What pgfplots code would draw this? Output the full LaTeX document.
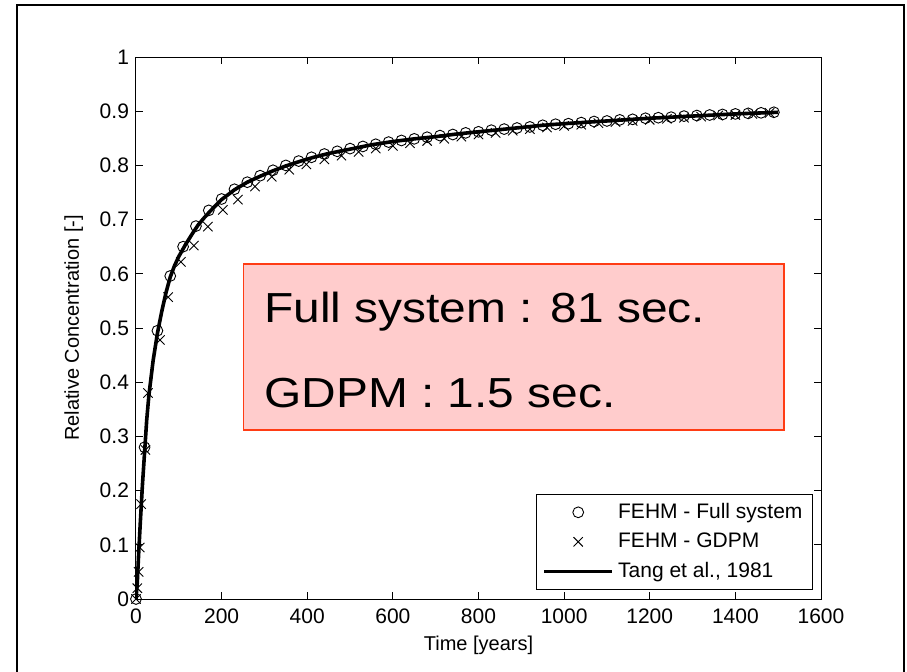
\documentclass[border=0pt]{standalone}
\usepackage{fontspec}
\setmainfont{Liberation Sans}
\usepackage{pgfplots}
\pgfplotsset{compat=1.18}
\usepackage{pgfplotstable}
\definecolor{boxfill}{RGB}{255,204,204}
\definecolor{boxline}{RGB}{255,60,20}
\pgfplotsset{
  legmark/.style={legend image code/.code={\draw[mark repeat=2,mark phase=2,##1] plot coordinates {(0cm,0cm)(0.6cm,0cm)(1.2cm,0cm)};}},
  legline/.style={legend image code/.code={\draw[##1] (0cm,0cm) -- (1.2cm,0cm);}},
}

\pgfplotstableread{
t c
0 0
20 0.28
50 0.495
80 0.596
110 0.650
140 0.688
170 0.717
200 0.738
230 0.756
260 0.769
290 0.781
320 0.791
350 0.800
380 0.808
410 0.815
440 0.821
470 0.826
500 0.831
530 0.835
560 0.839
590 0.843
620 0.846
650 0.849
680 0.852
710 0.855
740 0.857
770 0.860
800 0.862
830 0.865
860 0.867
890 0.869
920 0.871
950 0.874
980 0.876
1010 0.877
1040 0.879
1070 0.881
1100 0.882
1130 0.884
1160 0.885
1190 0.887
1220 0.888
1250 0.889
1280 0.891
1310 0.892
1340 0.893
1370 0.894
1400 0.895
1430 0.896
1460 0.897
1490 0.898
}\fullsys

\pgfplotstableread{
t c
0 0
3 0.02
6 0.05
9 0.095
12 0.175
22 0.275
28 0.38
56 0.478
75 0.557
105 0.622
135 0.652
168 0.687
203 0.718
238 0.737
278 0.761
317 0.779
358 0.792
398 0.802
440 0.811
480 0.818
520 0.825
560 0.831
600 0.836
640 0.841
680 0.845
720 0.849
760 0.853
800 0.857
840 0.860
880 0.864
920 0.867
960 0.870
1000 0.873
1040 0.875
1080 0.878
1120 0.880
1160 0.882
1200 0.884
1240 0.886
1280 0.888
1320 0.890
1360 0.892
1400 0.893
1440 0.895
1480 0.897
}\gdpm

\pgfplotstableread{
t c
0 0
3 0.03
6 0.08
10 0.14
15 0.21
20 0.27
25 0.33
30 0.375
40 0.44
50 0.49
60 0.53
70 0.565
80 0.594
90 0.615
100 0.632
115 0.653
130 0.672
145 0.690
160 0.704
175 0.717
200 0.737
230 0.755
260 0.769
290 0.780
320 0.790
350 0.799
385 0.808
415 0.815
450 0.822
500 0.830
550 0.838
600 0.844
650 0.849
700 0.853
750 0.858
800 0.862
850 0.866
900 0.870
950 0.874
1000 0.877
1100 0.882
1200 0.887
1300 0.891
1400 0.895
1500 0.898
}\tang

\begin{document}
\begin{tikzpicture}
\useasboundingbox (0,0) rectangle (453.5pt,335.5pt);
\draw[line width=0.75pt] (8.5pt,-3pt) -- (8.5pt,333pt) -- (452pt,333pt) -- (452pt,-3pt);
\begin{axis}[
  at={(68pt,36pt)}, anchor=south west,
  scale only axis, width=342.5pt, height=271pt,
  xmin=0, xmax=1600, ymin=0, ymax=1,
  xtick={0,200,400,600,800,1000,1200,1400,1600},
  ytick={0,0.1,0.2,0.3,0.4,0.5,0.6,0.7,0.8,0.9,1},
  scaled x ticks=false,
  /pgf/number format/assume math mode=true,
  /pgf/number format/1000 sep={},
  tick label style={font=\fontsize{10.5}{12}\selectfont},
  xticklabel style={yshift=-1.5pt},
  tick align=inside, major tick length=3.5pt,
  tick style={black, line width=0.5pt},
  axis line style={line width=0.5pt},
  xlabel={Time [years]},
  ylabel={Relative Concentration [-]},
  label style={font=\fontsize{10}{12}\selectfont},
  xlabel style={at={(axis description cs:0.5,-0.085)}, anchor=center},
  ylabel style={at={(axis description cs:-0.091,0.5)}, anchor=center},
  legend style={at={(axis description cs:1,0)}, anchor=south east,
    xshift=-4pt, yshift=4.5pt, draw=black, line width=0.5pt,
    font=\fontsize{10.5}{12}\selectfont, row sep=1.8pt,
    inner xsep=3pt, inner ysep=2.5pt},
  legend cell align=left,
]
\addplot[only marks, mark=o, mark size=2.7pt, black, mark options={line width=0.45pt}, legmark]
  table[x=t,y=c] {\fullsys};
\addlegendentry{FEHM - Full system}
\addplot[only marks, mark=x, mark size=3.3pt, black, mark options={line width=0.45pt}, legmark]
  table[x=t,y=c] {\gdpm};
\addlegendentry{FEHM - GDPM}
\addplot[black, line width=1.8pt, no marks, legline]
  table[x=t,y=c] {\tang};
\addlegendentry{Tang et al., 1981}
\draw[fill=boxfill, draw=boxline, line width=0.75pt] (axis cs:251,0.312) rectangle (axis cs:1513,0.618);
\node[anchor=base west, font=\fontsize{21}{24}\selectfont, inner sep=0pt, xscale=1.14] at (axis cs:299,0.511) {Full system : 81 sec.};
\node[anchor=base west, font=\fontsize{21}{24}\selectfont, inner sep=0pt, xscale=1.14] at (axis cs:299,0.354) {GDPM : 1.5 sec.};
\end{axis}
\end{tikzpicture}
\end{document}
